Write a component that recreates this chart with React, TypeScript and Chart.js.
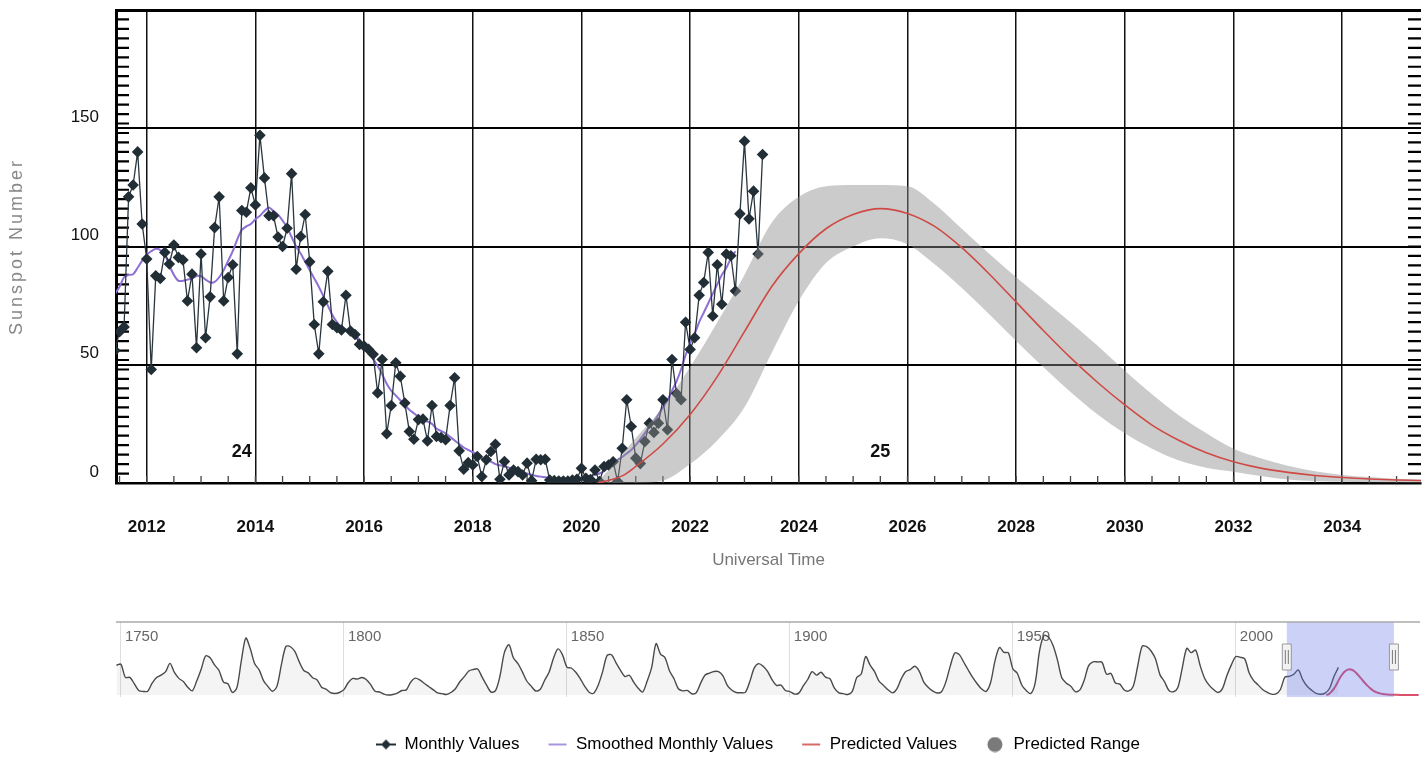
import React, { useEffect, useRef } from 'react';
import { Chart, registerables } from 'chart.js';

Chart.register(...registerables);

// ---------- DATA ----------
// Monthly sunspot values, one per month starting June 2011
const monthlyStartYear = 2011;
const monthlyStartMonth = 6;
const monthlyValues = [
  56, 64, 66, 121, 126, 140, 109.5,
  94.7, 48, 87.6, 86.5, 97.5, 92.6, 100.6, 95.4, 94.3, 77, 88.3, 57.2,
  96.8, 61.4, 78.7, 108, 121, 77, 86.9, 92.3, 54.6, 115.2, 114.5, 124.8,
  117.6, 147, 129, 113, 113, 104, 100, 107.7, 130.8, 90.4, 104.2, 113.5,
  93.5, 67, 54.6, 76.6, 89.5, 67, 65.7, 64.7, 79.4, 64.3, 62.8, 58.6,
  57.9, 56.5, 54.4, 38.1, 52.2, 20.8, 32.8, 50.8, 45.1, 33.8, 21.8, 18.5,
  26.8, 27, 17.8, 32.8, 19.7, 19.2, 18.3, 32.8, 44.5, 13.6, 5.8, 8.6,
  7.6, 11.2, 2.7, 9.8, 13.3, 16.4, 1.6, 9.1, 3.4, 5.5, 4.8, 3.4,
  8.4, 1, 10, 9.8, 10, 1.3, 1, 0.8, 0.8, 0.8, 1.3, 1.6,
  6.2, 2, 1.5, 5.5, 0.6, 7, 7.6, 9, 0.6, 14.7, 35.2, 23.9,
  10.5, 8.2, 17.5, 25.3, 21.4, 25.3, 35.2, 22.5, 52.2, 37.8, 35.2, 68,
  56.5, 61.4, 79.4, 84.8, 97.5, 70.6, 92.3, 75.6, 96.8, 96.1, 81.2, 113.8,
  144.5, 111.7, 123.4, 96.8, 138.9,
];

// Smoothed monthly values, one per month starting June 2011
const smoothedValues = [
  80, 83, 87, 88, 88.3, 91, 94,
  96.5, 98, 99, 98.5, 96.5, 92, 88, 85.5, 85.5, 86, 86.5, 87.5,
  87.5, 86, 84.8, 85, 87, 90, 94, 98, 103, 107, 108.5, 109.5,
  111.5, 113, 115, 116.5, 115, 113.5, 111, 108, 104, 100, 97, 93.5,
  90, 86.5, 83, 79, 75, 71, 68, 66, 65, 64, 63, 60.5,
  58, 55.5, 52.5, 49.5, 46, 42, 39, 37, 35, 33, 31, 29.5,
  28, 26.5, 26, 25, 23, 22, 21, 19.5, 18, 16.5, 15, 14,
  13, 12, 10.5, 9.8, 9, 8, 7.5, 7, 6.5, 5.5, 5, 4.5,
  4, 3.5, 3, 2.7, 2.4, 2.1, 2, 1.9, 1.8, 1.8, 1.8, 1.8,
  2, 2.5, 3, 3.5, 4, 5, 6.5, 8, 9.8, 11, 12.5, 14,
  16, 18.5, 21, 24, 26, 29, 32, 35, 39, 43, 48, 54,
  59, 63, 68, 72, 76, 80, 84, 88, 91, 95, 98,
];

// Predicted values (red line)
const predYears = [
  2020.3, 2020.75, 2021, 2021.5, 2022, 2022.5, 2023, 2023.5, 2024, 2024.5,
  2025, 2025.5, 2026, 2026.5, 2027, 2027.5, 2028, 2028.5, 2029, 2029.5,
  2030, 2030.5, 2031, 2031.5, 2032, 2032.5, 2033, 2033.5, 2034, 2034.5,
  2035, 2035.5, 2036, 2037, 2038, 2039, 2040, 2041,
];
const predValues = [
  0, 3, 7, 16.5, 29, 45, 64, 83, 97, 107.5,
  113.5, 116, 114, 108.5, 99.5, 88.5, 76.5, 64.5, 53, 42.5,
  33, 24.5, 18, 12.8, 9, 6.3, 4.5, 3.2, 2.3, 1.7,
  1.3, 1, 0.8, 0.6, 0.5, 0.4, 0.3, 0.3,
];

// Predicted range (grey band)
const rangeYears = [
  2020.3, 2020.6, 2021, 2021.5, 2022, 2022.5, 2023, 2023.5, 2024, 2024.5,
  2025, 2025.5, 2026, 2026.5, 2027, 2027.5, 2028, 2028.5, 2029, 2029.5,
  2030, 2030.5, 2031, 2031.5, 2032, 2032.5, 2033, 2033.5, 2034, 2034.5,
  2035, 2035.5, 2036,
];
const rangeLow = [
  0, 0, 0, 1, 8, 18, 32, 55, 77, 93,
  100, 103.5, 101, 92.5, 82.5, 71.5, 60, 49, 38.5, 29,
  21, 14.5, 9.5, 6.5, 4.8, 3, 1.5, 0.8, 0.5, 0.3,
  0.2, 0.1, 0.1,
];
const rangeHigh = [
  0.5, 8, 19, 32, 49, 68, 88, 110, 121, 125.5,
  126, 126, 125.5, 118, 107.5, 97, 87, 77.5, 68, 58,
  47.5, 37.5, 28.5, 21, 14.5, 10.5, 7.3, 5, 3.4, 2.5,
  1.8, 1.3, 1,
];

// Solar cycle labels
const cycleNames = ['24', '25'];
const cycleYears = [2013.75, 2025.5];
const cycleLabelValue = 13;

// Yearly sunspot numbers for the navigator, starting 1749
const historyStartYear = 1749;
const historyValues = [
  134.7,
  139.0, 79.5, 79.7, 51.2, 20.3, 16.0, 17.0, 54.0, 79.3, 90.0,
  104.8, 143.2, 102.0, 75.2, 60.7, 34.8, 19.0, 63.0, 116.3, 176.8,
  168.0, 136.0, 110.8, 58.0, 51.0, 11.7, 33.0, 154.2, 257.3, 209.8,
  141.3, 113.5, 64.2, 38.0, 17.0, 40.2, 138.2, 220.0, 218.2, 196.8,
  149.8, 111.0, 100.0, 78.2, 68.3, 35.5, 26.7, 10.7, 6.8, 11.3,
  24.2, 56.7, 75.0, 71.8, 79.2, 70.3, 46.8, 16.8, 13.5, 4.2,
  0.0, 2.3, 8.3, 20.3, 23.2, 59.0, 76.3, 68.3, 52.9, 38.5,
  24.2, 9.2, 6.3, 2.2, 11.4, 28.2, 59.9, 83.0, 108.5, 115.2,
  117.4, 80.8, 44.3, 13.4, 19.5, 85.8, 192.7, 227.3, 168.7, 143.0,
  105.5, 63.3, 40.3, 18.1, 25.1, 65.8, 102.7, 166.3, 208.3, 182.5,
  126.3, 122.0, 102.7, 74.1, 39.0, 12.7, 8.2, 43.4, 104.4, 178.3,
  182.2, 146.6, 112.1, 83.5, 89.2, 57.8, 30.7, 13.9, 62.8, 123.6,
  232.0, 185.3, 169.2, 110.1, 74.5, 28.3, 18.9, 20.7, 5.7, 10.0,
  53.7, 90.5, 99.0, 106.1, 105.8, 86.3, 42.4, 21.8, 11.2, 10.4,
  11.8, 59.5, 121.7, 142.0, 130.0, 106.6, 69.4, 43.8, 44.4, 20.2,
  15.7, 4.6, 8.5, 40.8, 70.1, 105.5, 90.1, 102.8, 80.9, 73.2,
  30.9, 9.5, 6.0, 2.4, 16.1, 79.0, 95.0, 173.6, 134.6, 105.7,
  62.7, 43.5, 23.7, 9.7, 27.9, 74.0, 106.5, 114.7, 129.7, 108.2,
  59.4, 35.1, 18.6, 9.2, 14.6, 60.2, 132.8, 190.6, 182.6, 148.0,
  113.0, 79.2, 50.8, 27.1, 16.1, 55.3, 154.3, 214.7, 193.0, 190.7,
  118.9, 98.3, 45.0, 20.1, 6.6, 54.2, 200.7, 269.3, 261.7, 225.1,
  159.0, 76.4, 53.4, 39.9, 15.0, 22.0, 66.8, 132.9, 150.0, 149.4,
  148.0, 94.4, 97.6, 54.1, 49.2, 22.5, 18.4, 39.3, 131.0, 220.1,
  218.9, 198.9, 162.4, 91.0, 60.5, 20.6, 14.8, 33.9, 123.0, 211.1,
  191.8, 203.3, 133.0, 76.1, 44.9, 25.1, 11.6, 28.9, 88.3, 136.3,
  173.9, 170.4, 163.6, 99.3, 65.3, 45.8, 24.7, 12.6, 4.2, 4.8,
  24.9, 80.8, 84.5, 94.0, 113.3, 69.8, 39.8, 21.7, 7.0, 3.6,
  8.8, 29.6, 83.2, 125.0,
];

// Axis ranges and ticks
const xMin = 2011.435;
const xMax = 2035.45;
const xStep = 2;
const yMin = 0;
const yMax = 200;
const yStep = 50;
const navMin = 1748.9;
const navMax = 2041.3;
const navStep = 50;

const legendNames = ['Monthly Values', 'Smoothed Monthly Values', 'Predicted Values', 'Predicted Range'];
const yTitle = 'Sunspot Number';
const xTitle = 'Universal Time';

// ---------- STYLE ----------
const SANS = "'Liberation Sans', Arial, sans-serif";
const C_MONTHLY = '#222e36';
const C_SMOOTH = '#8d6fd6';
const C_PRED = '#cf4a45';
const C_RANGE = 'rgba(140,140,140,0.45)';

const monthX = (i: number) => monthlyStartYear + (monthlyStartMonth - 1 + i) / 12;

const mainDecor = {
  id: 'mainDecor',
  beforeDatasetsDraw(chart: any) {
    const { ctx, chartArea: a, scales } = chart;
    const xs = scales.x;
    const ys = scales.y;
    ctx.save();
    ctx.strokeStyle = '#000';
    ctx.lineWidth = 2.2;
    ctx.beginPath();
    for (let v = yMin + 4; v < yMax; v += 4) {
      const py = ys.getPixelForValue(v);
      ctx.moveTo(a.left, py);
      ctx.lineTo(a.left + 13, py);
      ctx.moveTo(a.right - 13, py);
      ctx.lineTo(a.right, py);
    }
    ctx.stroke();
    ctx.strokeStyle = '#444';
    ctx.lineWidth = 1.3;
    ctx.beginPath();
    for (let t = Math.ceil(xMin * 2) / 2; t <= xMax; t += 0.5) {
      const px = xs.getPixelForValue(t);
      ctx.moveTo(px, a.bottom);
      ctx.lineTo(px, a.bottom - 7);
    }
    ctx.stroke();
    ctx.restore();
  },
  afterDraw(chart: any) {
    const { ctx, chartArea: a, scales } = chart;
    const xs = scales.x;
    const ys = scales.y;
    ctx.save();
    ctx.fillStyle = '#111';
    ctx.font = `bold 18px ${SANS}`;
    ctx.textAlign = 'center';
    ctx.textBaseline = 'middle';
    cycleNames.forEach((n, i) => {
      ctx.fillText(n, xs.getPixelForValue(cycleYears[i]), ys.getPixelForValue(cycleLabelValue));
    });
    ctx.fillStyle = '#777';
    ctx.font = `17px ${SANS}`;
    ctx.fillText(xTitle, (a.left + a.right) / 2, 560);
    ctx.translate(17, (a.top + a.bottom) / 2);
    ctx.rotate(-Math.PI / 2);
    ctx.fillStyle = '#888';
    ctx.font = `18px ${SANS}`;
    try { (ctx as any).letterSpacing = '3px'; } catch (e) {}
    ctx.fillText(yTitle, 0, 0);
    ctx.restore();
  },
};

const navDecor = {
  id: 'navDecor',
  beforeDatasetsDraw(chart: any) {
    const { ctx, chartArea: a, scales } = chart;
    const xs = scales.x;
    ctx.save();
    ctx.fillStyle = '#666';
    ctx.font = `15px ${SANS}`;
    ctx.textAlign = 'left';
    ctx.textBaseline = 'middle';
    xs.ticks.forEach((t: any) => {
      const px = xs.getPixelForValue(t.value);
      ctx.fillText(String(t.value), px + 4, a.top + 15);
    });
    ctx.restore();
  },
  afterDatasetsDraw(chart: any) {
    const { ctx, chartArea: a, scales } = chart;
    const xs = scales.x;
    const x1 = xs.getPixelForValue(xMin);
    const x2 = xs.getPixelForValue(xMax);
    ctx.save();
    ctx.fillStyle = 'rgba(100,115,235,0.33)';
    ctx.fillRect(x1, a.top, x2 - x1, a.bottom - a.top);
    ctx.strokeStyle = '#aaa';
    ctx.lineWidth = 1.5;
    ctx.beginPath();
    ctx.moveTo(a.left, a.top);
    ctx.lineTo(a.right, a.top);
    ctx.stroke();
    const hy = a.top + 35;
    [x1, x2].forEach((hx) => {
      ctx.fillStyle = '#f2f2f2';
      ctx.strokeStyle = '#999';
      ctx.lineWidth = 1;
      ctx.beginPath();
      ctx.rect(hx - 4.5, hy - 13, 9, 26);
      ctx.fill();
      ctx.stroke();
      ctx.strokeStyle = '#777';
      ctx.beginPath();
      ctx.moveTo(hx - 1.5, hy - 7);
      ctx.lineTo(hx - 1.5, hy + 7);
      ctx.moveTo(hx + 1.5, hy - 7);
      ctx.lineTo(hx + 1.5, hy + 7);
      ctx.stroke();
    });
    ctx.restore();
  },
};

function makeIcon(kind: number): HTMLCanvasElement {
  const c = document.createElement('canvas');
  c.width = 20;
  c.height = 16;
  const g = c.getContext('2d')!;
  if (kind === 0) {
    g.strokeStyle = C_MONTHLY;
    g.lineWidth = 2;
    g.beginPath(); g.moveTo(0, 8); g.lineTo(20, 8); g.stroke();
    g.fillStyle = C_MONTHLY;
    g.beginPath(); g.moveTo(10, 3); g.lineTo(15, 8); g.lineTo(10, 13); g.lineTo(5, 8); g.closePath(); g.fill();
  } else if (kind === 1 || kind === 2) {
    g.strokeStyle = kind === 1 ? '#a895dd' : '#d86a66';
    g.lineWidth = 2;
    g.beginPath(); g.moveTo(1, 8); g.lineTo(19, 8); g.stroke();
  } else {
    g.fillStyle = '#7a7a7a';
    g.beginPath(); g.arc(10, 8, 7.5, 0, Math.PI * 2); g.fill();
  }
  return c;
}

export default function App() {
  const mainRef = useRef<HTMLCanvasElement>(null);
  const navRef = useRef<HTMLCanvasElement>(null);

  useEffect(() => {
    document.body.style.margin = '0';
    const monthlyData = monthlyValues.map((v, i) => ({ x: monthX(i), y: v }));
    const smoothData = smoothedValues.map((v, i) => ({ x: monthX(i), y: v }));
    const predData = predYears.map((x, i) => ({ x, y: predValues[i] }));
    const lowData = rangeYears.map((x, i) => ({ x, y: rangeLow[i] }));
    const highData = rangeYears.map((x, i) => ({ x, y: rangeHigh[i] }));
    const histData = historyValues.map((v, i) => ({ x: historyStartYear + i, y: v }));

    const main = new Chart(mainRef.current!, {
      type: 'line',
      data: {
        datasets: [
          { label: 'Predicted Values', data: predData, borderColor: C_PRED, borderWidth: 1.6, pointRadius: 0, cubicInterpolationMode: 'monotone', fill: false },
          { label: 'Range low', data: lowData, borderWidth: 0, borderColor: 'rgba(0,0,0,0)', pointRadius: 0, cubicInterpolationMode: 'monotone', fill: false },
          { label: 'Predicted Range', data: highData, borderWidth: 0, borderColor: 'rgba(0,0,0,0)', backgroundColor: C_RANGE, pointRadius: 0, cubicInterpolationMode: 'monotone', fill: '-1' },
          { label: 'Monthly Values', data: monthlyData, borderColor: '#2a363e', borderWidth: 1.3, pointStyle: 'rectRot', pointRadius: 5.8, pointBackgroundColor: C_MONTHLY, pointBorderColor: C_MONTHLY, pointBorderWidth: 0, tension: 0, fill: false },
          { label: 'Smoothed Monthly Values', data: smoothData, borderColor: C_SMOOTH, borderWidth: 2, pointRadius: 0, tension: 0.3, fill: false },
        ],
      } as any,
      options: {
        responsive: false,
        animation: false,
        events: [],
        layout: { padding: { top: 10, right: 7, left: 0, bottom: 0 } },
        plugins: { legend: { display: false }, tooltip: { enabled: false } },
        scales: {
          x: {
            type: 'linear',
            min: xMin,
            max: xMax,
            afterFit: (s: any) => { s.height = 117; s.paddingLeft = 0; s.paddingRight = 0; },
            ticks: {
              stepSize: xStep,
              includeBounds: false,
              padding: 34,
              color: '#111',
              font: { family: SANS, size: 17, weight: 'bold' },
              callback: (v: any) => String(v),
              maxRotation: 0,
            },
            grid: { color: '#111', lineWidth: 1.5, drawTicks: false },
            border: { color: '#000', width: 2.5 },
          },
          y: {
            type: 'linear',
            min: yMin,
            max: yMax,
            afterFit: (s: any) => { s.width = 116; s.paddingTop = 0; s.paddingBottom = 0; },
            ticks: {
              stepSize: yStep,
              padding: 17,
              labelOffset: -11,
              color: '#111',
              font: { family: SANS, size: 17 },
              callback: (v: any) => (v === yMax ? '' : String(v)),
            },
            grid: { color: '#000', lineWidth: (c: any) => (c.tick && c.tick.value === yMax ? 3 : 2), drawTicks: false },
            border: { color: '#000', width: 3 },
          },
        },
      } as any,
      plugins: [mainDecor],
    });

    const icons = [0, 1, 2, 3].map(makeIcon);
    const nav = new Chart(navRef.current!, {
      type: 'line',
      data: {
        datasets: [
          { data: histData, borderColor: '#4a4a4a', borderWidth: 1.4, pointRadius: 0, tension: 0.3, fill: 'origin', backgroundColor: 'rgba(0,0,0,0.045)' },
          { data: predData, borderColor: '#d9506a', borderWidth: 2, pointRadius: 0, cubicInterpolationMode: 'monotone', fill: false },
        ],
      } as any,
      options: {
        responsive: false,
        animation: false,
        events: [],
        layout: { padding: { top: 32, left: 96, right: 8, bottom: 0 } },
        scales: {
          x: {
            type: 'linear',
            min: navMin,
            max: navMax,
            afterFit: (s: any) => { s.height = 11; },
            ticks: { display: false, stepSize: navStep, includeBounds: false },
            grid: { color: '#dedede', lineWidth: 1, drawTicks: false },
            border: { display: false },
          },
          y: {
            type: 'linear',
            min: -9,
            max: 330,
            afterFit: (s: any) => { s.width = 20; },
            ticks: { display: false },
            grid: { display: false },
            border: { display: false },
          },
        },
        plugins: {
          tooltip: { enabled: false },
          legend: {
            display: true,
            position: 'bottom',
            onClick: () => {},
            labels: {
              usePointStyle: true,
              pointStyleWidth: 20,
              padding: 28,
              color: '#333',
              font: { family: SANS, size: 17 },
              generateLabels: () =>
                legendNames.map((t, i) => ({
                  text: t,
                  pointStyle: icons[i],
                  fillStyle: '#000',
                  strokeStyle: '#000',
                  lineWidth: 0,
                  hidden: false,
                  datasetIndex: i,
                })),
            },
          },
        },
      } as any,
      plugins: [navDecor],
    });

    return () => {
      main.destroy();
      nav.destroy();
    };
  }, []);

  return (
    <div style={{ position: 'absolute', left: 0, top: 0, width: 1428, height: 758, overflow: 'hidden', background: '#fff' }}>
      <canvas ref={mainRef} width={1428} height={600} style={{ position: 'absolute', left: 0, top: 0, width: 1428, height: 600 }} />
      <canvas ref={navRef} width={1428} height={173} style={{ position: 'absolute', left: 0, top: 590, width: 1428, height: 173 }} />
    </div>
  );
}
